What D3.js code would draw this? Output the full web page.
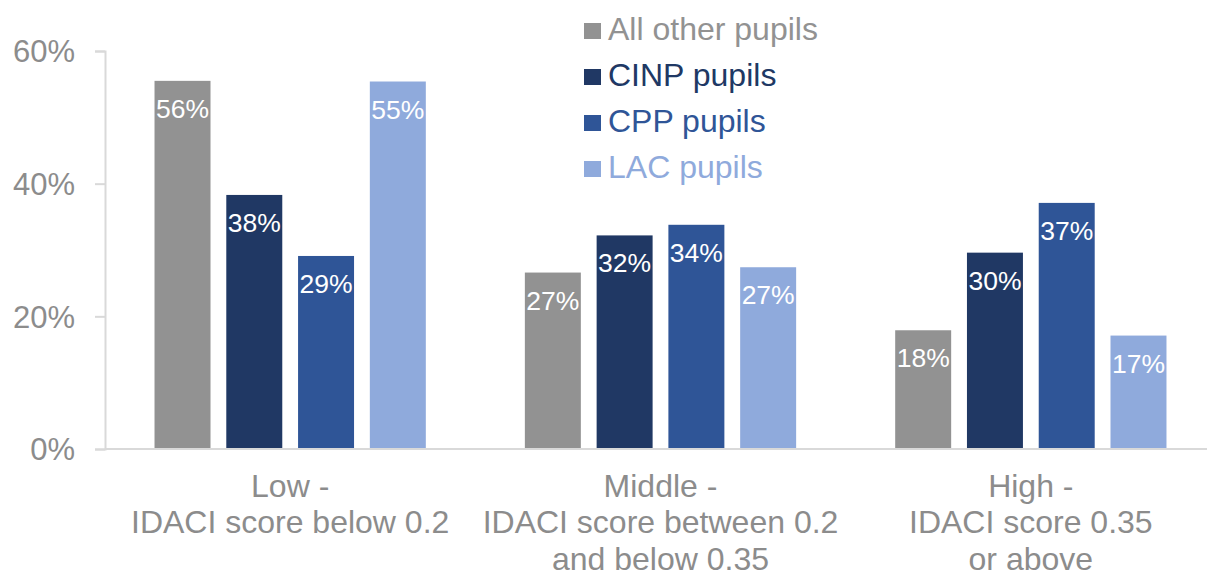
<!DOCTYPE html>
<html><head><meta charset="utf-8">
<script src="https://cdn.jsdelivr.net/npm/d3@7"></script>
<style>
html,body{margin:0;padding:0;background:#fff;}
svg{display:block;font-family:"Liberation Sans",Arial,sans-serif;}
</style></head>
<body><svg id="chart" width="1207" height="572"></svg>
<script>
const categories = [
  ["Low -", "IDACI score below 0.2"],
  ["Middle -", "IDACI score between 0.2", "and below 0.35"],
  ["High -", "IDACI score 0.35", "or above"]
];
const seriesNames = ["All other pupils", "CINP pupils", "CPP pupils", "LAC pupils"];
const seriesColors = ["#929292", "#203864", "#2F5597", "#8FAADC"];
const allOther = [0.555, 0.266, 0.179];
const cinp     = [0.383, 0.322, 0.296];
const cpp      = [0.291, 0.338, 0.371];
const lac      = [0.554, 0.274, 0.171];
const labelsAllOther = ["56%", "27%", "18%"];
const labelsCinp     = ["38%", "32%", "30%"];
const labelsCpp      = ["29%", "34%", "37%"];
const labelsLac      = ["55%", "27%", "17%"];
const yTicks = [0, 0.2, 0.4, 0.6];
const yTickLabels = ["0%", "20%", "40%", "60%"];

const series = [allOther, cinp, cpp, lac];
const seriesLabels = [labelsAllOther, labelsCinp, labelsCpp, labelsLac];

const svg = d3.select("#chart");
const mLeft = 105, mRight = 1216, mBottom = 449, mTop = 51;

const x0 = d3.scaleBand().domain(d3.range(categories.length)).range([mLeft, mRight]).padding(0);
const x1 = d3.scaleBand().domain(d3.range(series.length)).range([0, x0.bandwidth()])
  .paddingInner(0.22).paddingOuter(0.69);
const y = d3.scaleLinear().domain([0, 0.6]).range([mBottom, mTop]);

// y axis
const yAxis = d3.axisLeft(y).tickValues(yTicks).tickSize(10).tickFormat((d, i) => yTickLabels[i]);
const gy = svg.append("g").attr("transform", `translate(${mLeft},0)`).call(yAxis);
gy.select(".domain").attr("stroke", "#d9d9d9").attr("stroke-width", 2);
gy.selectAll(".tick line").attr("stroke", "#d9d9d9").attr("stroke-width", 2);
gy.selectAll(".tick text").attr("fill", "#8c8c8c").attr("font-size", 31)
  .attr("font-family", '"Liberation Sans",Arial,sans-serif').attr("x", -30).attr("dy", "0.35em");

// bars
const groups = svg.append("g").selectAll("g").data(categories).join("g")
  .attr("transform", (d, i) => `translate(${x0(i)},0)`);

groups.each(function(c, ci) {
  const g = d3.select(this);
  series.forEach((s, si) => {
    g.append("rect")
      .attr("x", x1(si)).attr("width", x1.bandwidth())
      .attr("y", y(s[ci])).attr("height", y(0) - y(s[ci]))
      .attr("fill", seriesColors[si]);
    g.append("text")
      .attr("x", x1(si) + x1.bandwidth() / 2).attr("y", y(s[ci]) + 37)
      .attr("text-anchor", "middle").attr("fill", "#fff").attr("font-size", 26.5)
      .text(seriesLabels[si][ci]);
  });
  const t = g.append("text").attr("text-anchor", "middle").attr("fill", "#8c8c8c").attr("font-size", 32);
  c.forEach((line, li) => {
    t.append("tspan").attr("x", x0.bandwidth() / 2).attr("y", 496.5 + li * 36.7).text(line);
  });
});

// x axis line
svg.append("line").attr("x1", mLeft).attr("x2", 1207).attr("y1", mBottom).attr("y2", mBottom)
  .attr("stroke", "#d9d9d9").attr("stroke-width", 2);

// legend
const legend = svg.append("g").attr("transform", "translate(584,0)");
seriesNames.forEach((n, i) => {
  legend.append("rect").attr("x", 0).attr("y", 23 + i * 46).attr("width", 17).attr("height", 16)
    .attr("fill", seriesColors[i]);
  legend.append("text").attr("x", 24).attr("y", 40 + i * 46).attr("fill", seriesColors[i])
    .attr("font-size", 32).text(n);
});
</script></body></html>
